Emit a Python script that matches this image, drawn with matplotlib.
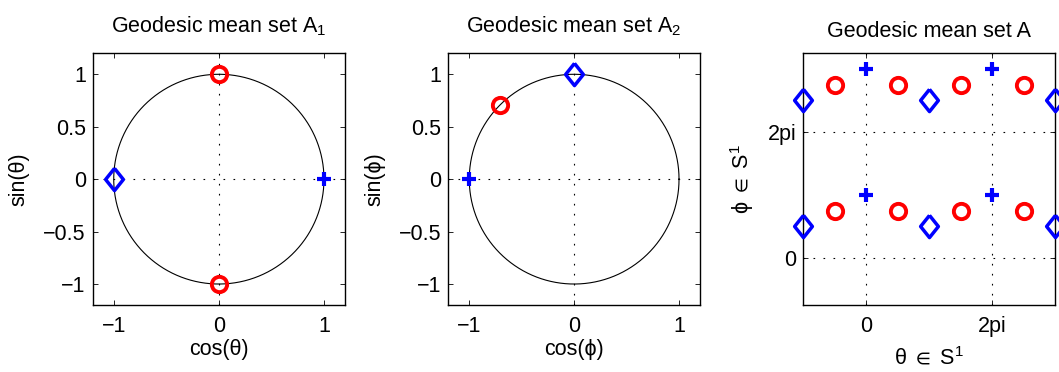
import numpy as np
import matplotlib
matplotlib.use('Agg')
import matplotlib.pyplot as plt
from matplotlib.ticker import FuncFormatter

plt.rcParams['font.family'] = ['Liberation Sans', 'DejaVu Sans']
plt.rcParams['mathtext.fontset'] = 'custom'
plt.rcParams['mathtext.rm'] = 'Liberation Sans'
plt.rcParams['mathtext.it'] = 'Liberation Sans'
plt.rcParams['mathtext.default'] = 'regular'
plt.rcParams['mathtext.fallback'] = 'stixsans'

# angles of the three marker groups (set A1 uses theta, set A2 uses phi)
plus_theta = [0.0]
plus_phi = [np.pi]
circ_theta = [np.pi / 2, -np.pi / 2]
circ_phi = [3 * np.pi / 4]
diam_theta = [np.pi]
diam_phi = [np.pi / 2]

unit_ticks_x = [-1, 0, 1]
unit_ticks_y = [-1, -0.5, 0, 0.5, 1]
torus_ticks = [0, 2 * np.pi]
torus_ticklabels = ['0', '2pi']

RED = (1, 0, 0)
BLUE = (0, 0, 1)
DOT = (0, (1.5, 7.5))
FS = 15.5

# matlab style diamond is wider than matplotlib's 'd'
diamond = [(0, 1), (0.8, 0), (0, -1), (-0.8, 0), (0, 1)]

circ_style = dict(marker='o', ms=11, mfc='none', mec=RED, mew=2.8, ls='none', clip_on=False, zorder=5)
diam_style = dict(marker=diamond, ms=16, mfc='none', mec=BLUE, mew=2.5, ls='none', clip_on=False, zorder=5)
plus_style = dict(marker='+', ms=10, mec=BLUE, mew=3.0, ls='none', clip_on=False, zorder=5)

fmt = FuncFormatter(lambda v, p: ('%g' % v).replace('-', '\u2212'))


def style_axes(ax):
    ax.tick_params(direction='in', length=3.5, width=0.6, top=True, right=True,
                   labelsize=FS, colors='black')
    ax.tick_params(axis='x', pad=8)
    ax.tick_params(axis='y', pad=5)
    for s in ax.spines.values():
        s.set_linewidth(1.0)


fig = plt.figure(figsize=(10.59, 3.72), dpi=100)
W, H = 1059.0, 372.0
boxes = [(92.7, 345), (448.3, 700), (803.3, 1055)]
top, bottom = 53.3, 305
axes = [fig.add_axes([l / W, 1 - bottom / H, (r - l) / W, (bottom - top) / H]) for l, r in boxes]

t = np.linspace(0, 2 * np.pi, 400)

# panel 1: set A1 on the unit circle
ax = axes[0]
ax.plot(np.cos(t), np.sin(t), color='black', lw=0.8)
ax.axhline(0, color='black', lw=0.8, ls=DOT)
ax.axvline(0, color='black', lw=0.8, ls=DOT)
ax.plot(np.cos(circ_theta), np.sin(circ_theta), **circ_style)
ax.plot(np.cos(diam_theta), np.sin(diam_theta), **diam_style)
ax.plot(np.cos(plus_theta), np.sin(plus_theta), **plus_style)
ax.set_title('Geodesic mean set A$_1$', fontsize=FS, pad=15)
ax.set_xlabel('cos(θ)', fontsize=FS, labelpad=1)
ax.set_ylabel('sin(θ)', fontsize=FS, labelpad=10)

# panel 2: set A2 on the unit circle
ax = axes[1]
ax.plot(np.cos(t), np.sin(t), color='black', lw=0.8)
ax.axhline(0, color='black', lw=0.8, ls=DOT)
ax.axvline(0, color='black', lw=0.8, ls=DOT)
ax.plot(np.cos(circ_phi), np.sin(circ_phi), **circ_style)
ax.plot(np.cos(diam_phi), np.sin(diam_phi), **diam_style)
ax.plot(np.cos(plus_phi), np.sin(plus_phi), **plus_style)
ax.set_title('Geodesic mean set A$_2$', fontsize=FS, pad=15)
ax.set_xlabel('cos(ϕ)', fontsize=FS, labelpad=1)
ax.set_ylabel('sin(ϕ)', fontsize=FS, labelpad=10)

for ax in axes[:2]:
    ax.set_xlim(-1.2, 1.2)
    ax.set_ylim(-1.2, 1.2)
    ax.set_xticks(unit_ticks_x)
    ax.set_yticks(unit_ticks_y)
    ax.xaxis.set_major_formatter(fmt)
    ax.yaxis.set_major_formatter(fmt)
    style_axes(ax)

# panel 3: product set A on the torus, unrolled with 2pi copies
ax = axes[2]
xlo, xhi = -np.pi, 3 * np.pi
ylo, yhi = -3 * np.pi / 4, 13 * np.pi / 4
shifts = 2 * np.pi * np.arange(-1, 2)


def copies(ths, phs):
    xs, ys = [], []
    for th in ths:
        for ph in phs:
            for a in shifts:
                for b in shifts:
                    x, y = th + a, ph + b
                    if xlo - 1e-9 <= x <= xhi + 1e-9 and ylo <= y <= yhi:
                        xs.append(x)
                        ys.append(y)
    return xs, ys


ax.plot(*copies(circ_theta, circ_phi), **circ_style)
ax.plot(*copies(diam_theta, diam_phi), **diam_style)
ax.plot(*copies(plus_theta, plus_phi), **plus_style)
ax.set_xlim(xlo, xhi)
ax.set_ylim(ylo, yhi)
ax.set_xticks(torus_ticks)
ax.set_xticklabels(torus_ticklabels)
ax.set_yticks(torus_ticks)
ax.set_yticklabels(torus_ticklabels)
ax.grid(True, color='black', lw=0.8, ls=DOT)
ax.set_title('Geodesic mean set A', fontsize=FS, pad=12)
ax.set_xlabel(r'θ $\in$ S$^1$', fontsize=FS, labelpad=7)
ax.set_ylabel(r'$\phi$ $\in$ S$^1$', fontsize=FS, labelpad=8)
style_axes(ax)

fig.savefig('out.png', dpi=100)
